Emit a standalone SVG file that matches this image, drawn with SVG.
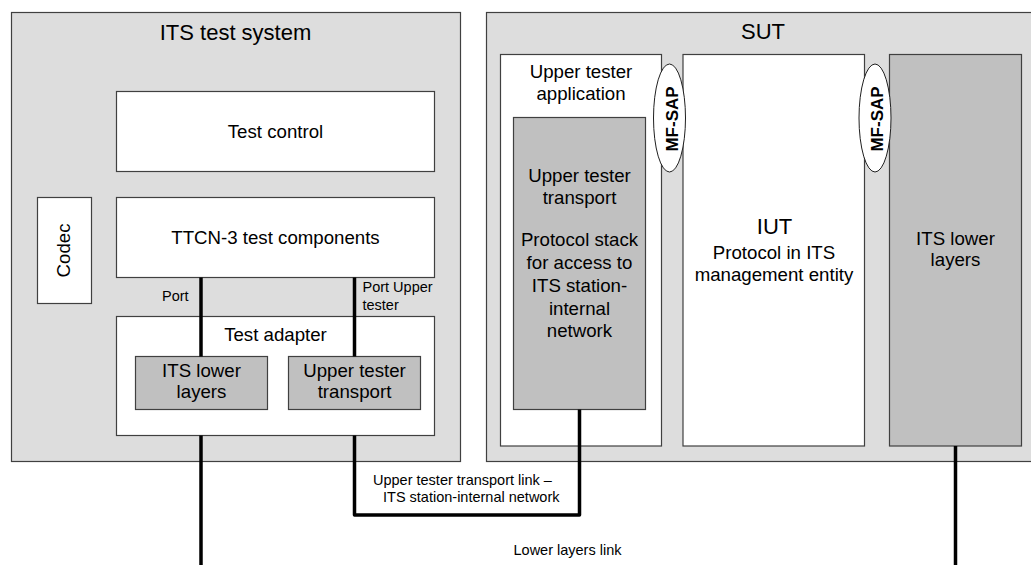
<svg xmlns="http://www.w3.org/2000/svg" width="1031" height="565" viewBox="0 0 1031 565">
  <style>
    .frame { fill: #dddddd; stroke: #404040; stroke-width: 1.2; }
    .box { fill: #ffffff; stroke: #404040; stroke-width: 1.2; }
    .grey { fill: #c0c0c0; stroke: #404040; stroke-width: 1.2; }
    .sap { fill: #ffffff; stroke: #202020; stroke-width: 1; }
    .link { fill: none; stroke: #000000; stroke-width: 3.5; stroke-linejoin: round; }
    text { font-family: "Liberation Sans", Arial, sans-serif; fill: #000000; }
    .title { font-size: 22px; text-anchor: middle; }
    .lbl { font-size: 18.67px; text-anchor: middle; }
    .small { font-size: 14.5px; }
    .sapt { font-size: 17px; font-weight: bold; text-anchor: middle; }
  </style>

  <!-- Test system frame -->
  <g id="its-test-system">
    <rect class="frame" x="11.5" y="12.5" width="449" height="449"/>
    <text class="title" x="235.5" y="40">ITS test system</text>
  </g>

  <!-- SUT frame (runs past the right edge) -->
  <g id="sut">
    <rect class="frame" x="486.5" y="12.5" width="560" height="449"/>
    <text class="title" x="763" y="39">SUT</text>
  </g>

  <g id="test-control">
    <rect class="box" x="116.5" y="91.5" width="318" height="80"/>
    <text class="lbl" x="275.5" y="137.5">Test control</text>
  </g>

  <g id="ttcn3-components">
    <rect class="box" x="116.5" y="197.5" width="318" height="80"/>
    <text class="lbl" x="275.5" y="244">TTCN-3 test components</text>
  </g>

  <g id="codec">
    <rect class="box" x="37.5" y="197.5" width="54" height="106"/>
    <text class="lbl" transform="translate(69.5,250.5) rotate(-90)">Codec</text>
  </g>

  <g id="test-adapter">
    <rect class="box" x="116.5" y="316.5" width="318" height="119"/>
    <text class="lbl" x="275.5" y="341">Test adapter</text>
  </g>

  <g id="ta-its-lower-layers">
    <rect class="grey" x="135.5" y="356.5" width="132" height="53"/>
    <text class="lbl" x="201.5" y="377">ITS lower</text>
    <text class="lbl" x="201.5" y="397.5">layers</text>
  </g>

  <g id="ta-upper-tester-transport">
    <rect class="grey" x="288.5" y="356.5" width="132" height="53"/>
    <text class="lbl" x="354.5" y="377">Upper tester</text>
    <text class="lbl" x="354.5" y="397.5">transport</text>
  </g>

  <g id="upper-tester-application">
    <rect class="box" x="500.5" y="54.5" width="161" height="391.5"/>
    <text class="lbl" x="581" y="77.5">Upper tester</text>
    <text class="lbl" x="581" y="100">application</text>
  </g>

  <g id="sut-upper-tester-transport">
    <rect class="grey" x="513.5" y="117.5" width="132" height="292"/>
    <text class="lbl" x="579.5" y="181.5">Upper tester</text>
    <text class="lbl" x="579.5" y="203.5">transport</text>
    <text class="lbl" x="579.5" y="245.5">Protocol stack</text>
    <text class="lbl" x="579.5" y="268.5">for access to</text>
    <text class="lbl" x="579.5" y="291.5">ITS station-</text>
    <text class="lbl" x="579.5" y="314.5">internal</text>
    <text class="lbl" x="579.5" y="337">network</text>
  </g>

  <g id="iut">
    <rect class="box" x="683" y="54.5" width="181.5" height="391.5"/>
    <text class="title" x="774.5" y="233.5">IUT</text>
    <text class="lbl" x="774" y="258.5">Protocol in ITS</text>
    <text class="lbl" x="774" y="281">management entity</text>
  </g>

  <g id="sut-its-lower-layers">
    <rect class="grey" x="889.5" y="54.5" width="132" height="391.5"/>
    <text class="lbl" x="955.5" y="244.5">ITS lower</text>
    <text class="lbl" x="955.5" y="266">layers</text>
  </g>

  <g id="mf-sap-1">
    <ellipse class="sap" cx="669.5" cy="118" rx="16" ry="54"/>
    <text class="sapt" transform="translate(677.5,119) rotate(-90)">MF-SAP</text>
  </g>

  <g id="mf-sap-2">
    <ellipse class="sap" cx="875" cy="118" rx="16" ry="54"/>
    <text class="sapt" transform="translate(883,119) rotate(-90)">MF-SAP</text>
  </g>

  <!-- Ports and links -->
  <g id="connectors">
    <line class="link" x1="201" y1="277.5" x2="201" y2="356.5"/>
    <line class="link" x1="354.5" y1="277.5" x2="354.5" y2="356.5"/>
    <path class="link" d="M354.5 435.5 V515 H579.5 V409.5"/>
    <line class="link" x1="201" y1="435.5" x2="201" y2="566"/>
    <line class="link" x1="955.5" y1="446" x2="955.5" y2="566"/>
    <text class="small" x="162" y="301">Port</text>
    <text class="small" x="362.5" y="292">Port Upper</text>
    <text class="small" x="362.5" y="309.5">tester</text>
    <text class="small" x="373" y="485">Upper tester transport link –</text>
    <text class="small" x="383" y="502">ITS station-internal network</text>
    <text class="small" x="513.5" y="555">Lower layers link</text>
  </g>
</svg>
